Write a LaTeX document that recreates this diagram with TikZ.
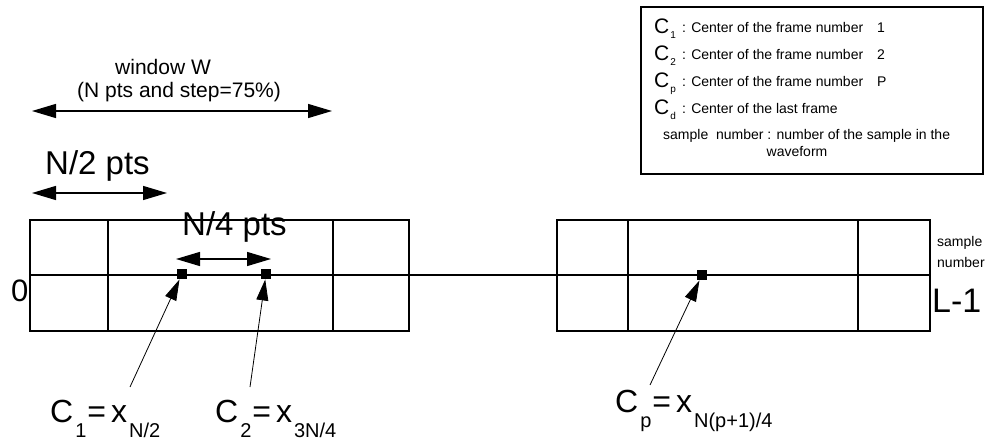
\documentclass[tikz,border=0pt]{standalone}
\usepackage{fontspec}
\setmainfont{Liberation Sans}
\usetikzlibrary{arrows.meta}
\newcommand\fs[1]{\fontsize{#1}{#1}\selectfont}
% big lowered index used in the centre labels
\newcommand\lowsub[1]{\hspace{2pt}\raisebox{-15pt}{\fs{20}#1}\hspace{1pt}}
% small lowered index used in the legend
\newcommand\legsub[1]{\hspace{1pt}\raisebox{-5pt}{\fs{10}#1}}

\begin{document}
\begin{tikzpicture}[x=1pt,y=-1pt,
  frameline/.style={line width=1.1pt},
  dimarrow/.style={line width=1.4pt,
    {Triangle[length=24pt,width=14pt]}-{Triangle[length=24pt,width=14pt]}},
  pointer/.style={line width=0.8pt, -{Triangle[length=21pt,width=12pt]}},
  ctr/.style={rectangle, fill=black, minimum size=10.5pt, inner sep=0pt},
  txt/.style={inner sep=0pt, anchor=base west},
  legtxt/.style={inner sep=0pt, anchor=base west, font=\fs{14}}]
\useasboundingbox (0,0) rectangle (990,443);

% ---- window and half/quarter window dimensions
\coordinate (wL) at (32,111);
\coordinate (wR) at (332,111);
\draw[dimarrow] (wL) -- (wR);
\node[txt, font=\fs{21}] (wtitle) at (115,75) {window W};
\node[txt, font=\fs{21}] (wsub) at (77,98) {(N pts and step=75\%)};

\coordinate (hL) at (32,193);
\coordinate (hR) at (167,193);
\draw[dimarrow] (hL) -- (hR);
\node[txt, font=\fs{33}] (half) at (45,175) {N/2 pts};

% ---- sample axis
\draw[frameline] (30,275) -- (930,275);

% first frame
\draw[frameline] (30,220) rectangle (409,331);
\draw[frameline] (108,220) -- (108,331);
\draw[frameline] (333,220) -- (333,331);

% frame p
\draw[frameline] (557,220) rectangle (930,331);
\draw[frameline] (628,220) -- (628,331);
\draw[frameline] (858,220) -- (858,331);

\node[txt, font=\fs{33}] (quarter) at (182,236) {N/4 pts};
\coordinate (qL) at (176,259);
\coordinate (qR) at (271,259);
\draw[dimarrow] (qL) -- (qR);

% frame centres
\node[ctr] (c1) at (182,274) {};
\node[ctr] (c2) at (266,274) {};
\node[ctr] (cp) at (702,275) {};

% axis ends
\node[txt, font=\fs{31}] (zero) at (11,302) {0};
\node[txt, font=\fs{34}] (last) at (932,313) {L-1};
\node[txt, font=\fs{14}] (sn1) at (937,247) {sample};
\node[txt, font=\fs{14}] (sn2) at (937,268) {number};

% centre labels
\node[txt, font=\fs{32}] (lab1) at (50,422) {C\lowsub{1}=\hspace{5pt}x\lowsub{N/2}};
\node[txt, font=\fs{32}] (lab2) at (215,422) {C\lowsub{2}=\hspace{5pt}x\lowsub{3N/4}};
\node[txt, font=\fs{32}] (labp) at (615,412) {C\lowsub{p}=\hspace{5pt}x\lowsub{N(p+1)/4}};

\coordinate (s1) at (130,387);
\coordinate (s2) at (250,387);
\coordinate (sp) at (650,385);
\draw[pointer] (s1) -- (c1);
\draw[pointer] (s2) -- (c2);
\draw[pointer] (sp) -- (cp);

% ---- legend
\draw[line width=1.3pt] (641,7) rectangle (983,174);
\node[txt, font=\fs{21}] (k1) at (654,34) {C\legsub{1}};
\node[legtxt] (d1) at (682,33) {: Center of the frame number\hspace{14pt}1};
\node[txt, font=\fs{21}] (k2) at (654,61) {C\legsub{2}};
\node[legtxt] (d2) at (682,60) {: Center of the frame number\hspace{14pt}2};
\node[txt, font=\fs{21}] (kp) at (654,88) {C\legsub{p}};
\node[legtxt] (dp) at (682,87) {: Center of the frame number\hspace{14pt}P};
\node[txt, font=\fs{21}] (kd) at (654,115) {C\legsub{d}};
\node[legtxt] (dd) at (682,114) {: Center of the last frame};
\node[legtxt] (ds) at (663,140) {sample\ \ number : number of the sample in the};
\node[inner sep=0pt, anchor=base, font=\fs{14}] (dw) at (797,157) {waveform};
\end{tikzpicture}
\end{document}
